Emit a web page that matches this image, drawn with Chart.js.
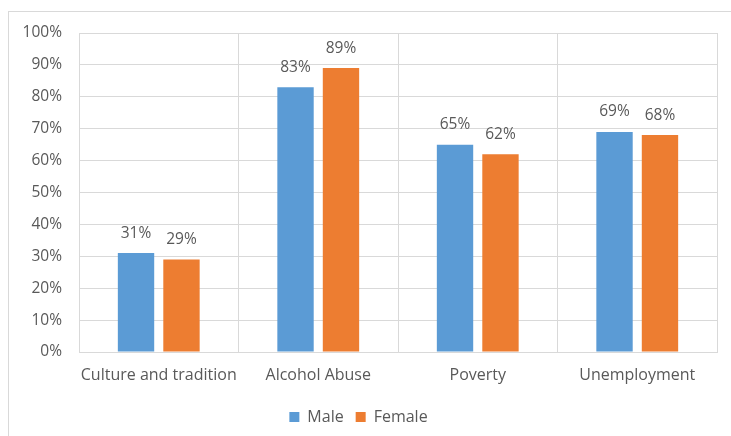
<!DOCTYPE html>
<html>
<head>
<meta charset="utf-8">
<script src="https://cdn.jsdelivr.net/npm/chart.js@4"></script>
<style>
    html, body { margin: 0; padding: 0; background: #fff; }
    #wrap { width: 731px; height: 436px; position: relative; }
</style>
</head>
<body>
<div id="wrap"><canvas id="causesChart"></canvas></div>
<script>
const categories = ['Culture and tradition', 'Alcohol Abuse', 'Poverty', 'Unemployment'];
const maleValues = [31, 83, 65, 69];
const femaleValues = [29, 89, 62, 68];
const seriesNames = ['Male', 'Female'];

Chart.defaults.font.family = "'Open Sans', sans-serif";
Chart.defaults.color = '#595959';

const gridColor = '#d9d9d9';

// White background plus the thin frame around the whole chart
const frame = {
    id: 'frame',
    beforeDraw(chart) {
        const ctx = chart.ctx;
        ctx.save();
        ctx.fillStyle = '#fff';
        ctx.fillRect(0, 0, chart.width, chart.height);
        ctx.strokeStyle = gridColor;
        ctx.lineWidth = 1;
        ctx.strokeRect(8.5, 11.5, chart.width, chart.height);
        ctx.restore();
    }
};

// Percentage text above each bar
const barLabels = {
    id: 'barLabels',
    afterDatasetsDraw(chart) {
        const ctx = chart.ctx;
        ctx.save();
        ctx.font = "15.5px 'Open Sans', sans-serif";
        ctx.fillStyle = '#595959';
        ctx.textAlign = 'center';
        ctx.textBaseline = 'middle';
        chart.data.datasets.forEach((ds, i) => {
            chart.getDatasetMeta(i).data.forEach((bar, j) => {
                ctx.fillText(ds.data[j] + '%', bar.x, bar.y - 20);
            });
        });
        ctx.restore();
    }
};

new Chart(document.getElementById('causesChart'), {
    type: 'bar',
    data: {
        labels: categories,
        datasets: [
            { label: seriesNames[0], data: maleValues, backgroundColor: '#5b9bd5' },
            { label: seriesNames[1], data: femaleValues, backgroundColor: '#ed7d31' }
        ]
    },
    options: {
        responsive: true,
        maintainAspectRatio: false,
        animation: false,
        categoryPercentage: 0.57,
        barPercentage: 0.8,
        layout: { padding: { top: 33, right: 14, left: 0, bottom: 1 } },
        plugins: {
            tooltip: { enabled: false },
            legend: {
                position: 'bottom',
                labels: {
                    boxWidth: 10,
                    boxHeight: 10,
                    padding: 12,
                    font: { size: 16 },
                    color: '#595959'
                }
            }
        },
        scales: {
            x: {
                grid: { color: gridColor, drawTicks: false },
                border: { color: gridColor },
                ticks: {
                    padding: 14,
                    font: { size: 16 },
                    color: '#595959',
                    maxRotation: 0,
                    minRotation: 0,
                    autoSkip: false
                },
                afterFit: (scale) => {
                    scale.height = 45;
                    scale.paddingLeft = 0;
                    scale.paddingRight = 0;
                }
            },
            y: {
                min: 0,
                max: 100,
                grid: { color: gridColor, drawTicks: false },
                border: { color: gridColor },
                ticks: {
                    stepSize: 10,
                    padding: 17,
                    font: { size: 15.5 },
                    color: '#595959',
                    callback: (v) => v + '%'
                },
                afterFit: (scale) => { scale.width = 79; }
            }
        }
    },
    plugins: [frame, barLabels]
});
</script>
</body>
</html>
